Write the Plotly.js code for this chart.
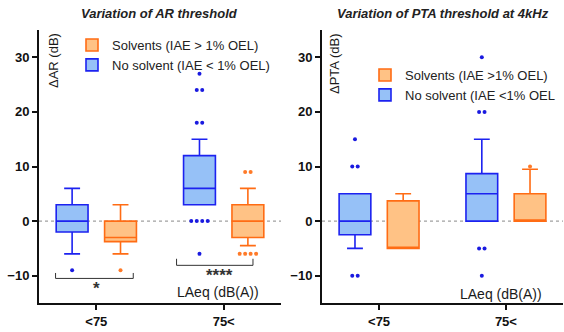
<!DOCTYPE html>
<html><head><meta charset="utf-8">
<script src="https://cdn.plot.ly/plotly-3.0.1.min.js"></script>
<style>html,body{margin:0;padding:0;background:#fff}#chart{width:564px;height:332px}</style>
</head><body><div id="chart"></div>
<script>
// ---------- data ----------
const categories = ['<75', '75<'];
const legendSolventAR = 'Solvents (IAE > 1% OEL)';
const legendNoSolventAR = 'No solvent (IAE < 1% OEL)';
const legendSolventPTA = 'Solvents (IAE >1% OEL)';
const legendNoSolventPTA = 'No solvent (IAE <1% OEL';

// AR threshold variation (dB)
const arNoSolventQ1 = [-2, 3];
const arNoSolventMedian = [0, 6];
const arNoSolventQ3 = [3, 12];
const arNoSolventLow = [-6, 3];
const arNoSolventHigh = [6, 15];
const arNoSolventOutliers = [[-9], [27, 24, 24, 18, 18, 0, 0, 0, 0, -6]];

const arSolventQ1 = [-3.75, -3];
const arSolventMedian = [-3, 0];
const arSolventQ3 = [0, 3];
const arSolventLow = [-6, -4.5];
const arSolventHigh = [3, 6];
const arSolventOutliers = [[-9], [9, 9, -6, -6, -6, -6]];

// PTA threshold variation at 4 kHz (dB)
const ptaNoSolventQ1 = [-2.5, 0];
const ptaNoSolventMedian = [0, 5];
const ptaNoSolventQ3 = [5, 8.7];
const ptaNoSolventLow = [-5, 0];
const ptaNoSolventHigh = [5, 15];
const ptaNoSolventOutliers = [[15, 10, 10, -10, -10], [30, 20, 20, -5, -5, -10]];

const ptaSolventQ1 = [-5, 0];
const ptaSolventMedian = [-5, 0];
const ptaSolventQ3 = [3.7, 5];
const ptaSolventLow = [-5, 0];
const ptaSolventHigh = [5, 9.5];
const ptaSolventOutliers = [[], [10]];

// ---------- styling ----------
const BLUE_FILL = '#96c1f7', BLUE_LINE = '#1c22f0', BLUE_DOT = '#1a1ae0';
const ORANGE_FILL = '#ffc285', ORANGE_LINE = '#ff6c14', ORANGE_DOT = '#ff7a28';
const OFF = 0.19, BW = 0.25, DOT_SP = 0.043;
const FONT = 'Arial, "Liberation Sans", sans-serif';
const catIdx = categories.map((c, i) => i);

function boxTrace(name, q1, med, q3, lo, hi, offset, fill, line, xa, ya, legend, rank, showlegend) {
  return {
    type: 'box', name: name, x: catIdx.map(i => i + offset),
    q1: q1, median: med, q3: q3, lowerfence: lo, upperfence: hi,
    width: BW, boxpoints: false, fillcolor: fill,
    line: {color: line, width: 1.6}, whiskerwidth: 0.5,
    xaxis: xa, yaxis: ya, legend: legend, legendrank: rank, showlegend: showlegend,
    hoverinfo: 'skip'
  };
}
function dotTrace(outliers, offset, color, xa, ya) {
  const xs = [], ys = [];
  outliers.forEach((vals, ci) => {
    const counts = {};
    vals.forEach(v => counts[v] = (counts[v] || 0) + 1);
    const seen = {};
    vals.forEach(v => {
      const n = counts[v]; const k = seen[v] = (seen[v] || 0);
      seen[v]++;
      xs.push(ci + offset + (k - (n - 1) / 2) * DOT_SP);
      ys.push(v);
    });
  });
  return {type: 'scatter', mode: 'markers', x: xs, y: ys, xaxis: xa, yaxis: ya,
    marker: {color: color, size: 4}, showlegend: false, hoverinfo: 'skip'};
}

const traces = [
  boxTrace(legendNoSolventAR, arNoSolventQ1, arNoSolventMedian, arNoSolventQ3, arNoSolventLow, arNoSolventHigh, -OFF, BLUE_FILL, BLUE_LINE, 'x', 'y', 'legend', 2, true),
  boxTrace(legendSolventAR, arSolventQ1, arSolventMedian, arSolventQ3, arSolventLow, arSolventHigh, OFF, ORANGE_FILL, ORANGE_LINE, 'x', 'y', 'legend', 1, true),
  dotTrace(arNoSolventOutliers, -OFF, BLUE_DOT, 'x', 'y'),
  dotTrace(arSolventOutliers, OFF, ORANGE_DOT, 'x', 'y'),
  boxTrace(legendNoSolventPTA, ptaNoSolventQ1, ptaNoSolventMedian, ptaNoSolventQ3, ptaNoSolventLow, ptaNoSolventHigh, -OFF, BLUE_FILL, BLUE_LINE, 'x2', 'y2', 'legend2', 2, true),
  boxTrace(legendSolventPTA, ptaSolventQ1, ptaSolventMedian, ptaSolventQ3, ptaSolventLow, ptaSolventHigh, OFF, ORANGE_FILL, ORANGE_LINE, 'x2', 'y2', 'legend2', 1, true),
  dotTrace(ptaNoSolventOutliers, -OFF, BLUE_DOT, 'x2', 'y2'),
  dotTrace(ptaSolventOutliers, OFF, ORANGE_DOT, 'x2', 'y2')
];

const W = 564, H = 332;
const px = v => v / W, py = v => 1 - v / H;

function yax() {
  return {range: [-15, 35], tickvals: [-10, 0, 10, 20, 30], ticks: 'outside', ticklen: 5, tickwidth: 2,
    tickcolor: '#111', showline: true, linewidth: 2, linecolor: '#111', showgrid: false, zeroline: false,
    tickfont: {family: FONT, size: 13, color: '#111', weight: 'bold'}, domain: [py(303), py(30)], fixedrange: true};
}
function xax(d0, d1, anchor) {
  return {range: [-0.45, 1.45], tickvals: catIdx, ticktext: categories, ticks: 'outside', ticklen: 5, tickwidth: 2,
    tickcolor: '#111', showline: true, linewidth: 2, linecolor: '#111', showgrid: false, zeroline: false,
    tickfont: {family: FONT, size: 13, color: '#111', weight: 'bold'}, domain: [d0, d1], anchor: anchor, fixedrange: true};
}

const txt = (text, x, y, size, extra) => Object.assign({text: text, x: x, y: y, xref: 'paper', yref: 'paper',
  showarrow: false, font: {family: FONT, size: size, color: '#1a1a1a'}, xanchor: 'center', yanchor: 'middle'}, extra || {});

const layout = {
  width: W, height: H, margin: {l: 0, r: 0, t: 0, b: 0}, paper_bgcolor: '#fff', plot_bgcolor: '#fff',
  xaxis: xax(px(39), px(281), 'y'), yaxis: Object.assign(yax(), {anchor: 'x'}),
  xaxis2: xax(px(322), px(563), 'y2'), yaxis2: Object.assign(yax(), {anchor: 'x2'}),
  legend: {x: px(72), y: py(30), xanchor: 'left', yanchor: 'top', bgcolor: 'rgba(0,0,0,0)',
    font: {family: FONT, size: 13, color: '#222'}, tracegroupgap: 0},
  legend2: {x: px(365), y: py(60), xanchor: 'left', yanchor: 'top', bgcolor: 'rgba(0,0,0,0)',
    font: {family: FONT, size: 13, color: '#222'}, tracegroupgap: 0},
  shapes: [
    {type: 'line', xref: 'x domain', yref: 'y', x0: 0, x1: 1, y0: 0, y1: 0, line: {color: '#888', width: 1, dash: 'dot'}, layer: 'below'},
    {type: 'line', xref: 'x2 domain', yref: 'y2', x0: 0, x1: 1, y0: 0, y1: 0, line: {color: '#888', width: 1, dash: 'dot'}, layer: 'below'},
    {type: 'path', xref: 'x', yref: 'y', path: 'M -0.32 -9.5 L -0.32 -10.5 L 0.29 -10.5 L 0.29 -9.5', line: {color: '#333', width: 1}},
    {type: 'path', xref: 'x', yref: 'y', path: 'M 0.63 -6.9 L 0.63 -8.1 L 1.23 -8.1 L 1.23 -6.9', line: {color: '#333', width: 1}}
  ],
  annotations: [
    txt('Variation of AR threshold', px(159), py(13), 13, {font: {family: FONT, size: 13, color: '#222', weight: 'bold', style: 'italic'}}),
    txt('Variation of PTA threshold at 4kHz', px(443), py(14), 13, {font: {family: FONT, size: 13, color: '#222', weight: 'bold', style: 'italic'}}),
    txt('ΔAR (dB)', px(53), py(61), 13, {textangle: -90}),
    txt('ΔPTA (dB)', px(335), py(64), 13, {textangle: -90}),
    txt('LAeq (dB(A))', px(218), py(292), 14),
    txt('LAeq (dB(A))', px(501), py(294), 14),
    {text: '*', x: 0, y: -12.3, xref: 'x', yref: 'y', showarrow: false, font: {family: FONT, size: 17, color: '#333', weight: 'bold'}},
    {text: '****', x: 0.97, y: -9.9, xref: 'x', yref: 'y', showarrow: false, font: {family: FONT, size: 17, color: '#333', weight: 'bold'}}
  ]
};

Plotly.newPlot('chart', traces, layout, {staticPlot: true, displayModeBar: false});
</script></body></html>
